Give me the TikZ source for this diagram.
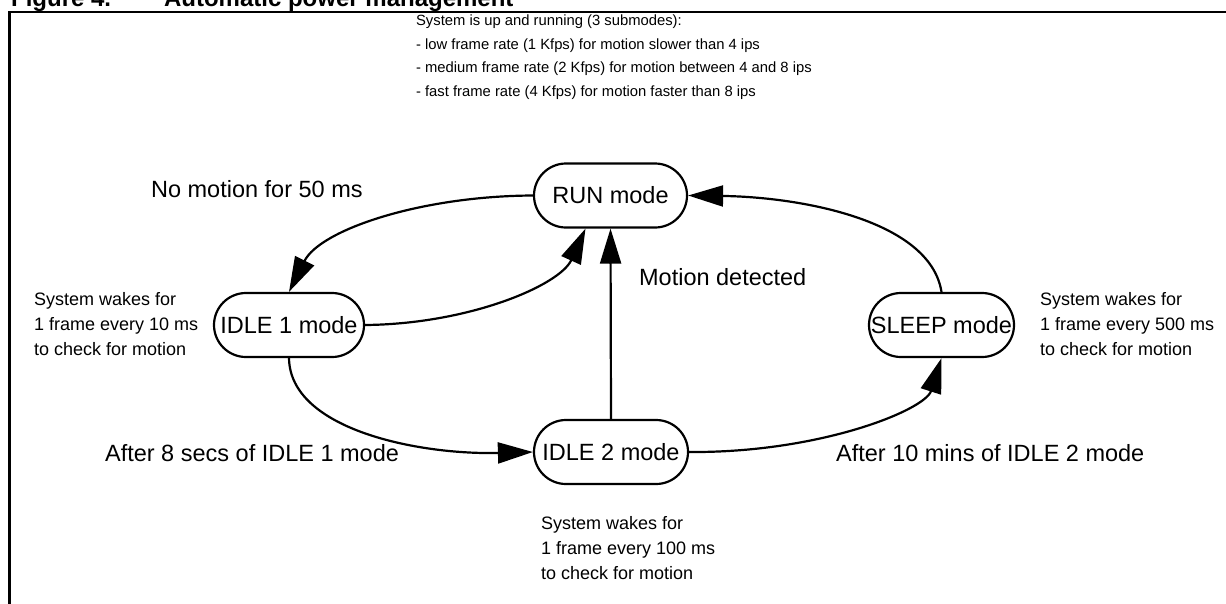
\documentclass[tikz,border=0pt]{standalone}
\usepackage{fontspec}
\setmainfont{Liberation Sans}
\usetikzlibrary{arrows.meta}
\begin{document}
\begin{tikzpicture}[x=1pt,y=-1pt,
  line width=2.2pt,
  modebox/.style={draw,rectangle,rounded corners=32pt,minimum height=64pt,inner sep=0pt,font=\fontsize{23.5}{28}\selectfont},
  biglbl/.style={anchor=base west,inner sep=0pt,font=\fontsize{23.5}{28}\selectfont},
  smalllbl/.style={anchor=base west,inner sep=0pt,font=\fontsize{18}{22}\selectfont},
  toplbl/.style={anchor=base west,inner sep=0pt,font=\fontsize{14.8}{18}\selectfont},
  ttl/.style={anchor=base west,inner sep=0pt,font=\fontsize{24}{28}\selectfont\bfseries},
  arr/.style={-{Triangle[length=35pt,width=21pt]}}]
\useasboundingbox (0,0) rectangle (1226,603);
% frame and title
\draw (9.5,610) -- (9.5,11.8) -- (1235,11.8);
\node[ttl] (t1) at (10,6) {Figure 4.};
\node[ttl] (t2) at (163,6) {Automatic power management};
% modes
\node[modebox,minimum width=153pt] (run) at (610.5,195.5) {RUN mode};
\node[modebox,minimum width=150pt] (idle1) at (289,325) {IDLE 1 mode};
\node[modebox,minimum width=154pt] (idle2) at (611,452) {IDLE 2 mode};
\node[modebox,minimum width=145pt] (sleep) at (941.5,325) {SLEEP mode};
% connectors
\coordinate (runsw) at ([xshift=-25pt]run.south);
\draw[arr] (run.west) .. controls (420,196) and (320,230) .. (idle1.north);
\draw[arr] (idle1.east) .. controls (470,324) and (560,285) .. (runsw);
\draw[arr] (idle1.south) .. controls (290,430) and (420,455) .. (idle2.west);
\draw[arr] (idle2.north) -- (run.south);
\draw[arr] (idle2.east) .. controls (820,453) and (925,410) .. (sleep.south);
\draw[arr] (sleep.north) .. controls (930,220) and (800,197) .. (run.east);
% labels
\node[biglbl] (l1) at (150,197) {No motion for 50 ms};
\node[biglbl] (l2) at (638,285) {Motion detected};
\node[biglbl] (l3) at (104,461) {After 8 secs of IDLE 1 mode};
\node[biglbl] (l4) at (835,461) {After 10 mins of IDLE 2 mode};
% top text
\node[toplbl] (s1) at (415,25.5) {System is up and running (3 submodes):};
\node[toplbl] (s2) at (415,49) {- low frame rate (1 Kfps) for motion slower than 4 ips};
\node[toplbl] (s3) at (415,72.5) {- medium frame rate (2 Kfps) for motion between 4 and 8 ips};
\node[toplbl] (s4) at (415,96) {- fast frame rate (4 Kfps) for motion faster than 8 ips};
% left text
\node[smalllbl] (a1) at (33,305) {System wakes for};
\node[smalllbl] (a2) at (33,330) {1 frame every 10 ms};
\node[smalllbl] (a3) at (33,355) {to check for motion};
% right text
\node[smalllbl] (b1) at (1039,305) {System wakes for};
\node[smalllbl] (b2) at (1039,330) {1 frame every 500 ms};
\node[smalllbl] (b3) at (1039,355) {to check for motion};
% bottom text
\node[smalllbl] (c1) at (540,529) {System wakes for};
\node[smalllbl] (c2) at (540,554) {1 frame every 100 ms};
\node[smalllbl] (c3) at (540,579) {to check for motion};
\end{tikzpicture}
\end{document}
